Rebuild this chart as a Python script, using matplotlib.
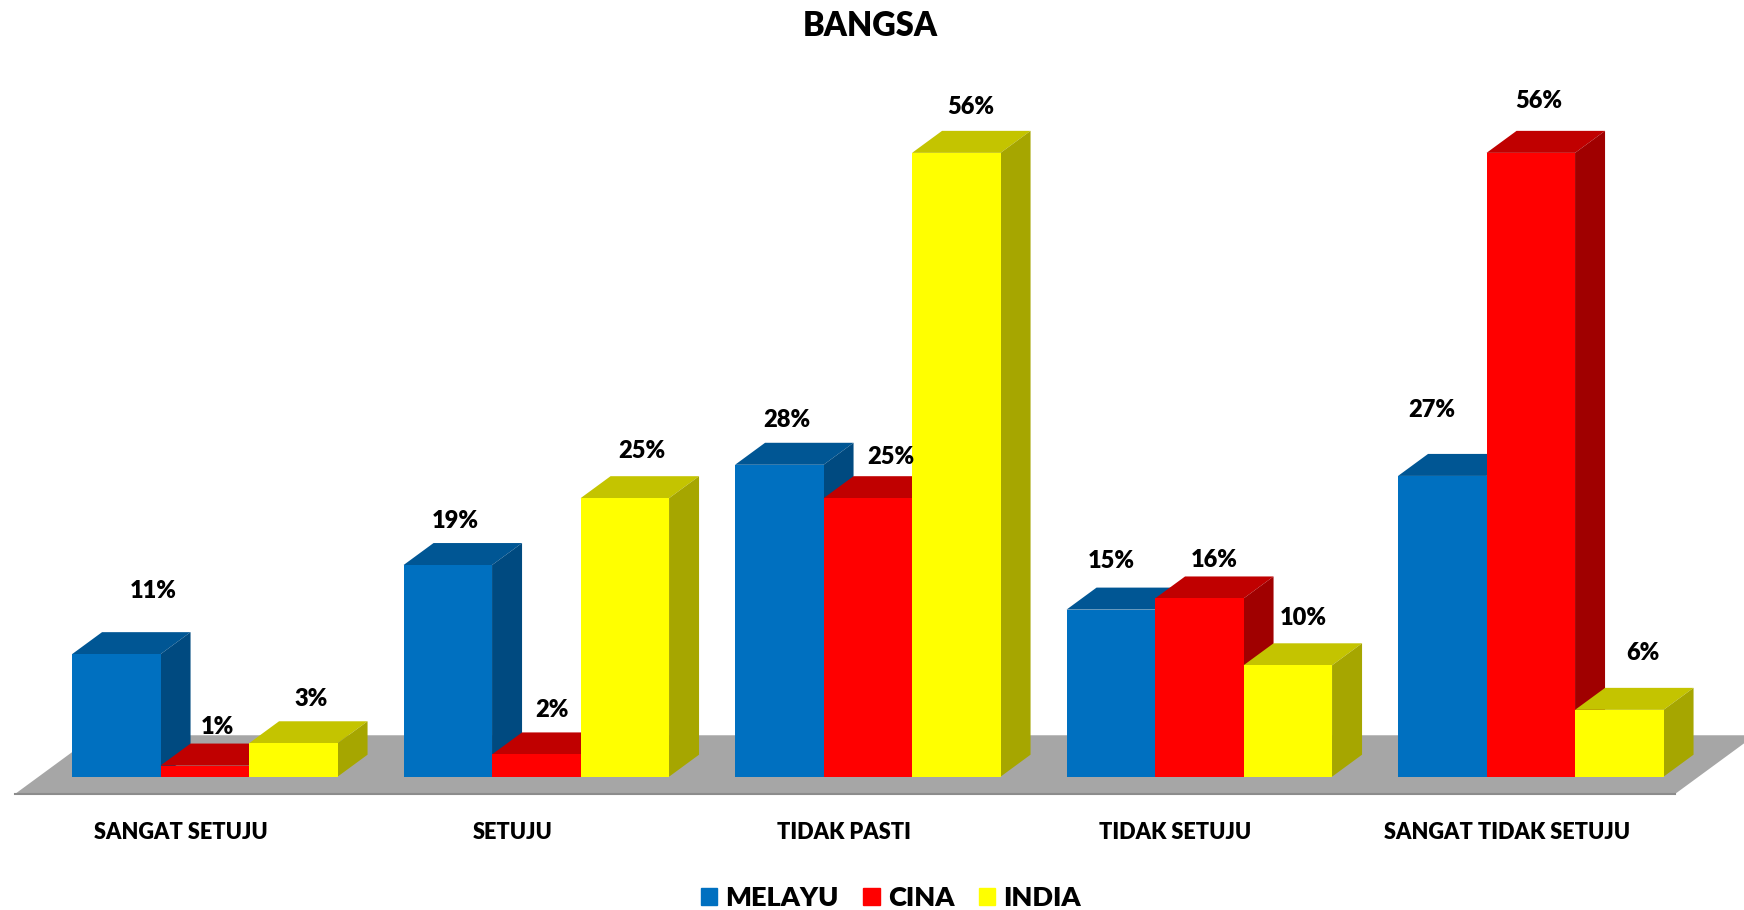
import matplotlib.pyplot as plt
from matplotlib.patches import Patch

plt.rcParams['font.family'] = ['Lato', 'DejaVu Sans']
plt.rcParams['font.weight'] = 800

categories = ['SANGAT SETUJU', 'SETUJU', 'TIDAK PASTI', 'TIDAK SETUJU', 'SANGAT TIDAK SETUJU']
series = ['MELAYU', 'CINA', 'INDIA']
melayu = [11, 19, 28, 15, 27]
cina = [1, 2, 25, 16, 56]
india = [3, 25, 56, 10, 6]

front = ['#0070C0', '#FF0000', '#FFFF00']
top = ['#005694', '#C00000', '#C4C400']
side = ['#004A80', '#A00000', '#A6A600']

# label nudges in pixels from the top centre of each bar, they were placed by hand
label_dx = [[37, 13, 18], [7, 16, 17], [8, 23, 14], [0, 15, 15], [-11, 8, 24]]
label_dy = [[-63, -39, -44], [-44, -44, -47], [-45, -41, -46], [-49, -38, -47], [-66, -52, -57]]

W, H = 1744, 910
group_px = 331.5   # pixels between groups
pct_px = 11.14     # pixels per percent
x0_px = 204.8      # pixel x of first group centre
y0_px = 776.7      # pixel y (from top) of zero
bar_w = 88.5 / group_px
depth_x = 30 / group_px
depth_y = 22 / pct_px

fig = plt.figure(figsize=(W / 100, H / 100), dpi=100)
ax = fig.add_axes([0, 0, 1, 1])
ax.set_xlim(-x0_px / group_px, (W - x0_px) / group_px)
ax.set_ylim(-(H - y0_px) / pct_px, y0_px / pct_px)
ax.axis('off')

# floor
fl = (15 - x0_px) / group_px
fr = (1675 - x0_px) / group_px
fb = -17.3 / pct_px
fk = 2.67
ax.fill([fl, fr, fr + fk * depth_x, fl + fk * depth_x],
        [fb, fb, fb + fk * depth_y, fb + fk * depth_y], color='#A6A6A6', lw=0, zorder=1)
ax.plot([fl, fr], [fb, fb], color='#8C8C8C', lw=1.5, zorder=1)

z = 2
for i, cat in enumerate(categories):
    for j, vals in enumerate([melayu, cina, india]):
        v = vals[i]
        x = i + (j - 1) * bar_w
        l, r = x - bar_w / 2, x + bar_w / 2
        ax.fill([l, r, r + depth_x, l + depth_x], [v, v, v + depth_y, v + depth_y],
                color=top[j], lw=0, zorder=z)
        ax.fill([r, r + depth_x, r + depth_x, r], [0, depth_y, v + depth_y, v],
                color=side[j], lw=0, zorder=z)
        ax.bar(x, v, width=bar_w, color=front[j], lw=0, zorder=z + 0.5)
        z += 1
        ax.annotate(f'{v}%', (x, v), xytext=(label_dx[i][j], -label_dy[i][j]),
                    textcoords='offset pixels', ha='center', va='center',
                    fontsize=17, color='black', zorder=100)
    ax.annotate(cat, (i, 0), xytext=(-24, -56), textcoords='offset pixels',
                ha='center', va='center', fontsize=15.7, color='black')

fig.text(870 / W, 1 - 26 / H, 'BANGSA', ha='center', va='center', fontsize=23.5, color='black')

handles = [Patch(color=c, label=s) for c, s in zip(front, series)]
fig.legend(handles=handles, loc='center', bbox_to_anchor=(891 / W, 1 - 898 / H), ncol=3,
           frameon=False, fontsize=19.5, handlelength=0.6, handleheight=0.6,
           handletextpad=0.3, columnspacing=0.92)

fig.savefig('out.png', dpi=100)
